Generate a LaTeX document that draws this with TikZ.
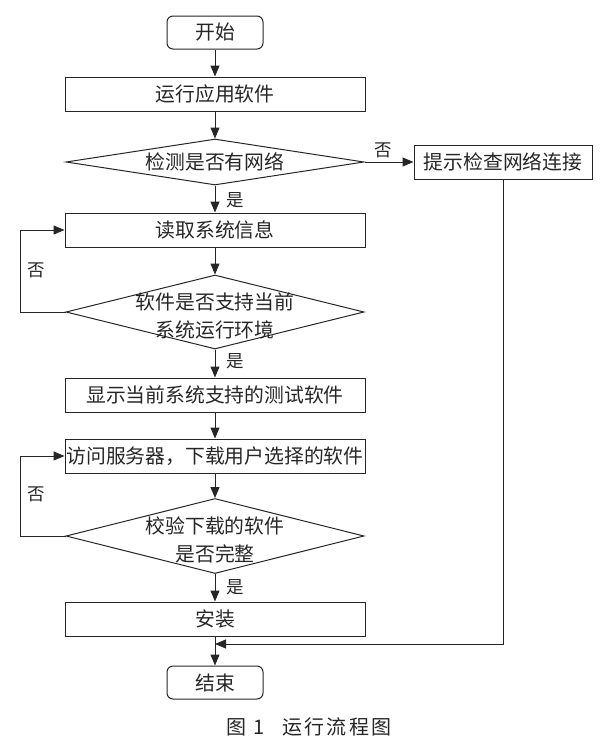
\documentclass[tikz,border=0pt]{standalone}
\usepackage{fontspec}
\setmainfont{Noto Sans CJK SC}
\newfontfamily\capfont[LetterSpace=12]{Noto Sans CJK SC}
\usetikzlibrary{shapes.geometric,arrows.meta}
\definecolor{ink}{HTML}{262626}
\begin{document}
\begin{tikzpicture}[x=1pt,y=-1pt, line width=1pt, draw=ink, text=ink,
  boxnode/.style={draw=ink, minimum width=300pt, minimum height=34pt, inner sep=0pt, font=\fontsize{19.8}{22}\selectfont},
  termnode/.style={draw=ink, rounded corners=6pt, minimum width=96pt, minimum height=33pt, inner sep=0pt, font=\fontsize{19.8}{22}\selectfont},
  decnode/.style={draw=ink, diamond, minimum width=298pt, inner sep=0pt},
  dectext/.style={align=center, inner sep=0pt, font=\fontsize{19.8}{28}\selectfont},
  lbl/.style={inner sep=0pt, font=\fontsize{17.5}{20}\selectfont},
  arr/.style={draw=ink, -{Triangle[length=11pt,width=9pt]}}
]
\useasboundingbox (0,0) rectangle (600,745);

\node[termnode] (start) at (215,32.5) {开始};
\node[boxnode] (b1) at (215,94) {运行应用软件};
\node[decnode, minimum height=46pt] (d1) at (215,162) {};
\node[dectext] (t1) at (215,162) {检测是否有网络};
\node[boxnode, minimum width=178pt] (rb) at (503,162) {提示检查网络连接};
\node[boxnode] (b2) at (215,230) {读取系统信息};
\node[decnode, minimum height=74pt] (d2) at (215,312) {};
\node[dectext] (t2) at (215,316) {软件是否支持当前\\系统运行环境};
\node[boxnode] (b3) at (215,395) {显示当前系统支持的测试软件};
\node[boxnode] (b4) at (215,456) {访问服务器，下载用户选择的软件};
\node[decnode, minimum height=75pt] (d3) at (215,536) {};
\node[dectext] (t3) at (215,540) {校验下载的软件\\是否完整};
\node[boxnode] (b5) at (215,619) {安装};
\node[termnode] (end) at (215,682.5) {结束};
\coordinate (m) at (215,644);

\draw[arr] (start) -- (b1);
\draw[arr] (b1) -- (d1);
\draw[arr] (d1) -- (b2);
\draw[arr] (d1.east) -- (rb.west);
\draw[arr] (b2) -- (d2);
\draw[arr] (d2) -- (b3);
\draw[arr] (b3) -- (b4);
\draw[arr] (b4) -- (d3);
\draw[arr] (d3) -- (b5);
\draw[arr] (b5) -- (end);
\draw[arr] (rb.south) |- (m);
\draw[arr] (d2.west) -- ++(-45,0) |- (b2.west);
\draw[arr] (d3.west) -- ++(-45,0) |- (b4.west);

\node[lbl] (n1) at (383,150) {否};
\node[lbl] (y1) at (235,200) {是};
\node[lbl] (n2) at (36,270) {否};
\node[lbl] (y2) at (235,361) {是};
\node[lbl] (n3) at (36,494) {否};
\node[lbl] (y3) at (235,587) {是};

\node[inner sep=0pt, font=\capfont\fontsize{20}{22}\selectfont] (cap) at (309,727) {图 1\hspace{18pt}运行流程图};
\end{tikzpicture}
\end{document}
